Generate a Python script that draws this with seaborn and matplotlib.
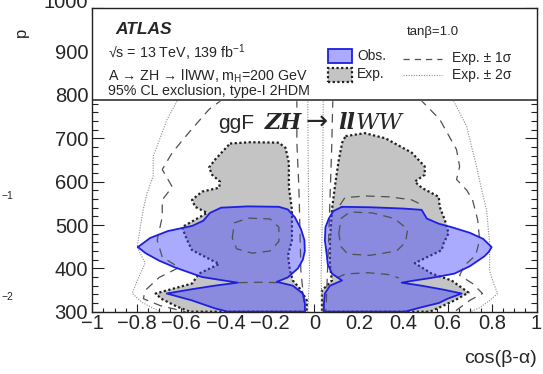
import numpy as np
import matplotlib
matplotlib.use("Agg")
import matplotlib.pyplot as plt
import seaborn as sns
from matplotlib.patches import Rectangle
from matplotlib.lines import Line2D
from matplotlib.ticker import MultipleLocator, FuncFormatter

sns.set_style("ticks")
plt.rcParams["font.family"] = ["Liberation Sans", "DejaVu Sans"]
plt.rcParams["mathtext.default"] = "regular"

# ---------------- data (cos(beta-alpha), m_A [GeV]) ----------------
obs_left_x = [-0.795, -0.74, -0.66, -0.55, -0.50, -0.47, -0.42, -0.30, -0.16, -0.12, -0.088, -0.06,
              -0.045, -0.043, -0.052, -0.074, -0.12, -0.169, -0.097, -0.052, -0.043, -0.043, -0.39,
              -0.45, -0.551, -0.665, -0.55, -0.45, -0.345, -0.42, -0.506, -0.55, -0.627, -0.70, -0.76]
obs_left_y = [449, 470, 486, 498, 510, 528, 540, 543, 542, 536, 518, 490, 465, 440, 420, 400, 379,
              369, 360, 342, 320, 300, 300, 308, 326, 342, 352, 360, 367, 373, 380, 388, 402, 418, 435]

obs_right_x = [0.124, 0.25, 0.40, 0.483, 0.506, 0.56, 0.618, 0.70, 0.76, 0.798, 0.785, 0.766, 0.70,
               0.631, 0.56, 0.515, 0.45, 0.393, 0.483, 0.58, 0.663, 0.60, 0.56, 0.48, 0.407, 0.043,
               0.043, 0.047, 0.070, 0.124, 0.079, 0.060, 0.056, 0.047, 0.050, 0.065, 0.085]
obs_right_y = [542, 541, 538, 535, 515, 503, 495, 482, 468, 449, 438, 428, 405, 388, 381, 377, 372,
               367, 360, 351, 342, 330, 320, 310, 300, 300, 320, 342, 360, 372, 388, 410, 430, 465,
               495, 515, 532]

exp_left_x = [-0.38, -0.29, -0.16, -0.13, -0.115, -0.115, -0.101, -0.101, -0.119, -0.110, -0.097,
              -0.065, -0.034, -0.034, -0.56, -0.62, -0.69, -0.715, -0.551, -0.519, -0.429, -0.551,
              -0.573, -0.596, -0.483, -0.537, -0.551, -0.506, -0.429, -0.425, -0.461, -0.474, -0.447]
exp_left_y = [688, 691, 690, 678, 644, 588, 535, 465, 430, 395, 372, 353, 326, 300, 300, 312, 330,
              342, 365, 388, 410, 442, 465, 495, 528, 542, 558, 577, 586, 600, 616, 633, 651]

exp_right_x = [0.14, 0.227, 0.32, 0.438, 0.497, 0.497, 0.452, 0.483, 0.560, 0.564, 0.587, 0.604,
               0.582, 0.573, 0.452, 0.528, 0.618, 0.694, 0.631, 0.560, 0.52, 0.034, 0.034, 0.079,
               0.070, 0.070, 0.079, 0.092, 0.110, 0.125]
exp_right_y = [705, 712, 700, 667, 635, 616, 600, 586, 565, 542, 512, 481, 458, 442, 412, 388, 372,
               344, 326, 309, 300, 300, 349, 372, 407, 465, 535, 588, 651, 690]

# expected +-1 sigma (dashed)
s1_left_outer_x = [-0.411, -0.474, -0.564, -0.640, -0.685, -0.640, -0.685, -0.685, -0.708, -0.685,
                   -0.609, -0.699, -0.762, -0.77, -0.694, -0.58]
s1_left_outer_y = [791, 767, 714, 667, 628, 588, 558, 519, 465, 426, 402, 379, 349, 330, 314, 300]
s1_left_inner_x = [-0.079, -0.079, -0.07, -0.065, -0.061, -0.052, -0.043]
s1_left_inner_y = [791, 691, 588, 488, 395, 349, 300]
s1_right_outer_x = [0.474, 0.564, 0.640, 0.654, 0.640, 0.685, 0.712, 0.735, 0.744, 0.726, 0.676,
                    0.654, 0.712, 0.757, 0.699, 0.631]
s1_right_outer_y = [791, 744, 674, 635, 605, 581, 558, 512, 465, 430, 407, 384, 365, 342, 326, 300]
s1_right_inner_x = [0.083, 0.078, 0.07, 0.061, 0.052]
s1_right_inner_y = [791, 680, 558, 420, 300]
s1_left_island_x = [-0.37, -0.36, -0.30, -0.20, -0.16, -0.16, -0.20, -0.28, -0.35]
s1_left_island_y = [470, 505, 516, 514, 495, 462, 440, 435, 445]
s1_left_low_x = [-0.34, -0.25, -0.16]
s1_left_low_y = [367, 368, 367]
s1_right_island_x = [0.11, 0.12, 0.16, 0.26, 0.36, 0.42, 0.41, 0.37, 0.25, 0.15, 0.12]
s1_right_island_y = [480, 515, 530, 528, 515, 490, 460, 440, 430, 433, 450]
s1_right_top_x = [0.115, 0.137, 0.227, 0.339, 0.438, 0.47]
s1_right_top_y = [546, 563, 567, 565, 558, 550]
s1_right_low_x = [0.10, 0.14, 0.24, 0.33, 0.38]
s1_right_low_y = [378, 387, 390, 386, 378]

# expected +-2 sigma (dotted)
s2_left_outer_x = [-0.613, -0.663, -0.726, -0.726, -0.753, -0.771, -0.784, -0.798, -0.762, -0.798,
                   -0.820, -0.775, -0.694]
s2_left_outer_y = [791, 744, 658, 612, 574, 535, 495, 449, 412, 372, 342, 321, 300]
s2_right_outer_x = [0.622, 0.685, 0.730, 0.753, 0.775, 0.789, 0.789, 0.807, 0.825, 0.789, 0.744, 0.70]
s2_right_outer_y = [791, 728, 635, 581, 535, 458, 395, 365, 342, 326, 309, 300]
s2_left_inner_x = [-0.03, -0.028, -0.025, -0.022, -0.03]
s2_left_inner_y = [791, 650, 500, 380, 300]
s2_right_inner_x = [0.04, 0.038, 0.035, 0.03, 0.035]
s2_right_inner_y = [791, 650, 500, 380, 300]

legend_top = 788
x_ticks_step, y_ticks_step = 0.2, 100

# ---------------- figure ----------------
W, H = 543, 374
fig = plt.figure(figsize=(W / 100, H / 100), dpi=100)
ax = fig.add_axes([92.3 / W, (H - 311.7) / H, 444.2 / W, 303.4 / H])

GRAY = "#c4c4c4"
BLUE_FILL = (68 / 255, 68 / 255, 1.0)
BLUE_EDGE = "#1f1fe0"


def closed(xs, ys):
    return list(xs) + [xs[0]], list(ys) + [ys[0]]


def path(xs, ys, **kw):
    sns.lineplot(x=xs, y=ys, sort=False, estimator=None, ax=ax, **kw)


# expected (grey) regions
for xs, ys in [(exp_left_x, exp_left_y), (exp_right_x, exp_right_y)]:
    ax.fill(xs, ys, facecolor=GRAY, edgecolor="none", zorder=1)
    cx, cy = closed(xs, ys)
    path(cx, cy, color="#202020", lw=1.6, linestyle=(0, (1, 1.1)), zorder=2)

# observed (blue) regions
for xs, ys in [(obs_left_x, obs_left_y), (obs_right_x, obs_right_y)]:
    ax.fill(xs, ys, facecolor=BLUE_FILL, alpha=0.45, edgecolor="none", zorder=3)
    cx, cy = closed(xs, ys)
    path(cx, cy, color=BLUE_EDGE, lw=1.3, zorder=5)

# +-1 sigma dashed
dash_kw = dict(color="#505050", lw=0.9, linestyle=(0, (7, 5)), zorder=4)
for xs, ys in [(s1_left_outer_x, s1_left_outer_y), (s1_left_inner_x, s1_left_inner_y),
               (s1_right_outer_x, s1_right_outer_y), (s1_right_inner_x, s1_right_inner_y),
               (s1_left_low_x, s1_left_low_y), (s1_right_top_x, s1_right_top_y),
               (s1_right_low_x, s1_right_low_y)]:
    path(xs, ys, **dash_kw)
for xs, ys in [(s1_left_island_x, s1_left_island_y), (s1_right_island_x, s1_right_island_y)]:
    cx, cy = closed(xs, ys)
    path(cx, cy, **dash_kw)

# +-2 sigma dotted
dot_kw = dict(color="#8a8a8a", lw=0.8, linestyle=(0, (1, 1.3)), zorder=4)
for xs, ys in [(s2_left_outer_x, s2_left_outer_y), (s2_right_outer_x, s2_right_outer_y),
               (s2_left_inner_x, s2_left_inner_y), (s2_right_inner_x, s2_right_inner_y)]:
    path(xs, ys, **dot_kw)

# legend area
ax.axhspan(legend_top, 1000, color="white", zorder=6)
ax.axhline(legend_top, color="#222222", lw=1.1, zorder=7)

ax.set_xlim(-1, 1)
ax.set_ylim(300, 1000)
ax.xaxis.set_major_locator(MultipleLocator(x_ticks_step))
ax.xaxis.set_minor_locator(MultipleLocator(0.05))
ax.yaxis.set_major_locator(MultipleLocator(y_ticks_step))
ax.yaxis.set_minor_locator(MultipleLocator(20))


def xfmt(v, pos):
    s = f"{round(v, 2):g}"
    if s == "-0":
        s = "0"
    return s.replace("-", "\u2212")


def yfmt(v, pos):
    # the top label is drawn separately (it is cut by the figure edge)
    return "" if round(v) >= 1000 else f"{v:.0f}"


ax.xaxis.set_major_formatter(FuncFormatter(xfmt))
ax.yaxis.set_major_formatter(FuncFormatter(yfmt))
ax.tick_params(which="both", direction="in", top=True, right=True, color="#222222",
               labelsize=14.5, width=0.8)
ax.tick_params(axis="x", which="major", length=5.8, pad=2)
ax.tick_params(axis="x", which="minor", length=2.9)
ax.tick_params(axis="y", which="major", length=8.6, pad=3)
ax.tick_params(axis="y", which="minor", length=4.3)
for sp in ax.spines.values():
    sp.set_linewidth(1.0)
    sp.set_color("#222222")
    sp.set_zorder(10)

ax.annotate("1000", xy=(0, 1000), xycoords=("axes fraction", "data"), xytext=(-3, 4),
            textcoords="offset points", fontsize=14.5, ha="right", va="center",
            annotation_clip=False)

ax.set_ylabel("")
ax.set_xlabel("cos(\u03b2-\u03b1)", fontsize=14, loc="right", labelpad=12)

# texts
tk = dict(transform=ax.transAxes, zorder=8)
ax.text(0.051, 0.929, "ATLAS", fontsize=12.5, weight="bold", style="italic", va="center", **tk)
ax.text(0.0356, 0.853, "\u221as = 13 TeV, 139 fb$^{-1}$", fontsize=10.3, va="center", **tk)
ax.text(0.0356, 0.775, "A \u2192 ZH \u2192 llWW, m$_{H}$=200 GeV", fontsize=10.3, va="center", **tk)
ax.text(0.0356, 0.726, "95% CL exclusion, type-I 2HDM", fontsize=10.3, va="center", **tk)
ax.text(0.708, 0.922, "tan\u03b2=1.0", fontsize=9.5, va="center", **tk)

# legend (manual)
ax.add_patch(Rectangle((0.531, 0.820), 0.054, 0.046, transform=ax.transAxes, facecolor="#aaaaff",
                       edgecolor=BLUE_EDGE, lw=1.3, zorder=8, clip_on=False))
ax.add_patch(Rectangle((0.531, 0.756), 0.054, 0.048, transform=ax.transAxes, facecolor=GRAY,
                       edgecolor="#202020", lw=1.6, linestyle=(0, (1, 1.1)), zorder=8, clip_on=False))
ax.add_line(Line2D([0.700, 0.787], [0.832, 0.832], transform=ax.transAxes, zorder=8,
                   color="#505050", lw=0.9, linestyle=(0, (5, 4))))
ax.add_line(Line2D([0.700, 0.787], [0.781, 0.781], transform=ax.transAxes, zorder=8,
                   color="#8a8a8a", lw=0.8, linestyle=(0, (1, 1.3))))
ax.text(0.596, 0.843, "Obs.", fontsize=10, va="center", **tk)
ax.text(0.596, 0.782, "Exp.", fontsize=10, va="center", **tk)
ax.text(0.810, 0.835, "Exp. \u00b1 1\u03c3", fontsize=10, va="center", **tk)
ax.text(0.810, 0.780, "Exp. \u00b1 2\u03c3", fontsize=10, va="center", **tk)

# ggF ZH -> llWW
t0 = ax.text(0.283, 0.602, "ggF", fontsize=15, va="baseline", ha="left", **tk)
t1 = ax.annotate("ZH", xy=(1, 0.602), xycoords=(t0, "axes fraction"), xytext=(8, 0),
                 textcoords="offset points", fontsize=16, family="DejaVu Serif", weight="bold",
                 style="italic", va="baseline", ha="left", zorder=8)
t2 = ax.annotate("\u2192", xy=(1, 0.602), xycoords=(t1, "axes fraction"), xytext=(2, 0),
                 textcoords="offset points", fontsize=19, family="DejaVu Sans",
                 va="baseline", ha="left", zorder=8)
t3 = ax.annotate("ll", xy=(1, 0.602), xycoords=(t2, "axes fraction"), xytext=(8, 0),
                 textcoords="offset points", fontsize=16, family="DejaVu Serif", weight="bold",
                 style="italic", va="baseline", ha="left", zorder=8)
t4 = ax.annotate("WW", xy=(1, 0.602), xycoords=(t3, "axes fraction"), xytext=(0, 0),
                 textcoords="offset points", fontsize=16.5, family="DejaVu Serif",
                 style="italic", va="baseline", ha="left", zorder=8)

# fragments at the left edge (cropped neighbouring panel)
fig.text(21 / W, 1 - 32 / H, "p", rotation=90, fontsize=12, ha="center", va="center")
fig.text(2 / W, 1 - 196 / H, "\u22121", fontsize=7.5, ha="left", va="center")
fig.text(2 / W, 1 - 297 / H, "\u22122", fontsize=7.5, ha="left", va="center")

fig.savefig("out.png", dpi=100)
